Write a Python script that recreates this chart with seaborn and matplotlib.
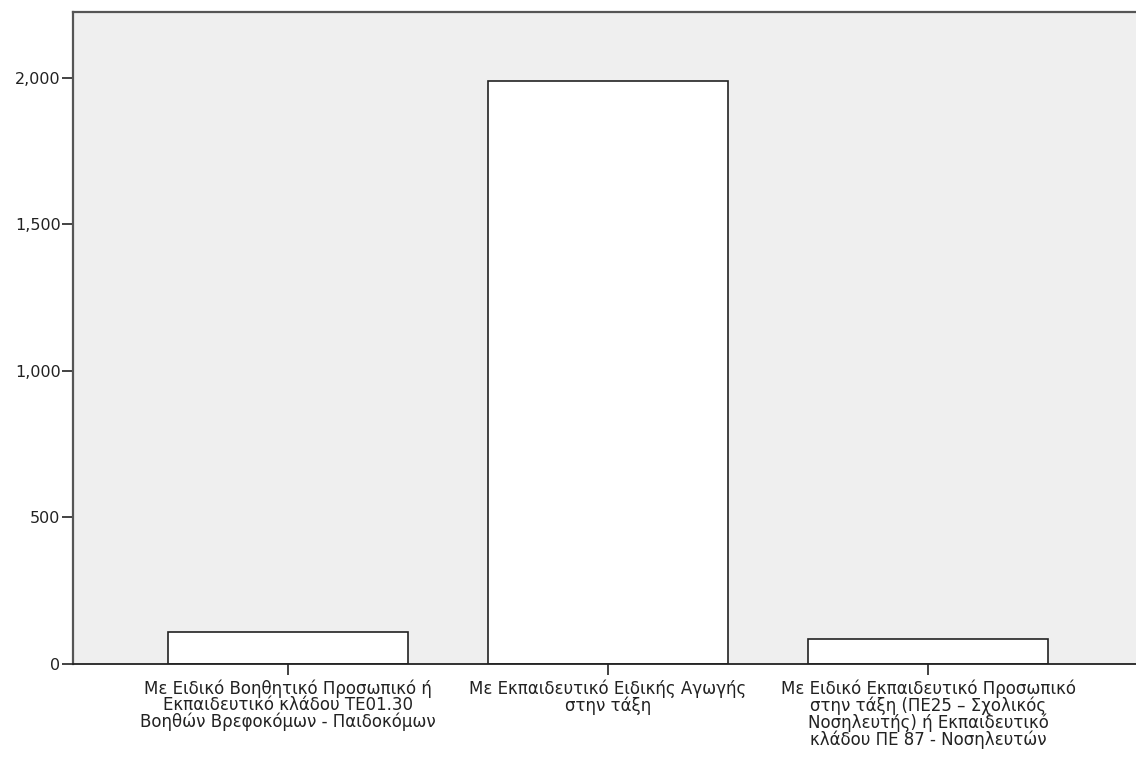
import matplotlib
matplotlib.use("Agg")
import matplotlib.pyplot as plt
import matplotlib.ticker as mticker
import seaborn as sns
import pandas as pd

categories = [
    "Με Ειδικό Βοηθητικό Προσωπικό ή\nΕκπαιδευτικό κλάδου ΤΕ01.30\nΒοηθών Βρεφοκόμων - Παιδοκόμων",
    "Με Εκπαιδευτικό Ειδικής Αγωγής\nστην τάξη",
    "Με Ειδικό Εκπαιδευτικό Προσωπικό\nστην τάξη (ΠΕ25 – Σχολικός\nΝοσηλευτής) ή Εκπαιδευτικό\nκλάδου ΠΕ 87 - Νοσηλευτών",
]
counts = [110, 1988, 86]
yticks = [0, 500, 1000, 1500, 2000]

df = pd.DataFrame({"category": categories, "count": counts})

sns.set_style("white")
plt.rcParams["font.family"] = ["DejaVu Sans"]
plt.rcParams["xtick.bottom"] = True
plt.rcParams["ytick.left"] = True

fig = plt.figure(figsize=(11.36, 7.6), dpi=100)
ax = fig.add_axes([0.0643, 0.1263, 0.9357, 0.8577])
ax.set_facecolor("#efefef")

sns.barplot(data=df, x="category", y="count", color="white", width=0.75,
            edgecolor="#222222", linewidth=1.2, saturation=1, ax=ax)

ax.set_xlim(-0.672, 2.65)
ax.set_ylim(0, 2223)
ax.set_yticks(yticks)
ax.yaxis.set_major_formatter(mticker.FuncFormatter(lambda v, p: f"{int(v):,}"))
ax.set_xlabel("")
ax.set_ylabel("")
ax.tick_params(axis="y", direction="out", length=8, width=1.2,
               color="#222222", labelsize=11.5, labelcolor="#222222", pad=1)
ax.tick_params(axis="x", direction="out", length=8, width=1.2,
               color="#222222", labelsize=12, labelcolor="#222222", pad=3)

for side in ["left", "top", "bottom"]:
    ax.spines[side].set_visible(True)
    ax.spines[side].set_color("#555555")
    ax.spines[side].set_linewidth(1.6)
ax.spines["bottom"].set_color("#222222")
ax.spines["bottom"].set_linewidth(1.3)
ax.spines["right"].set_visible(False)

for lbl in ax.get_xticklabels():
    lbl.set_linespacing(0.9)
    lbl.set_ha("center")

fig.savefig("out.png", dpi=100)
